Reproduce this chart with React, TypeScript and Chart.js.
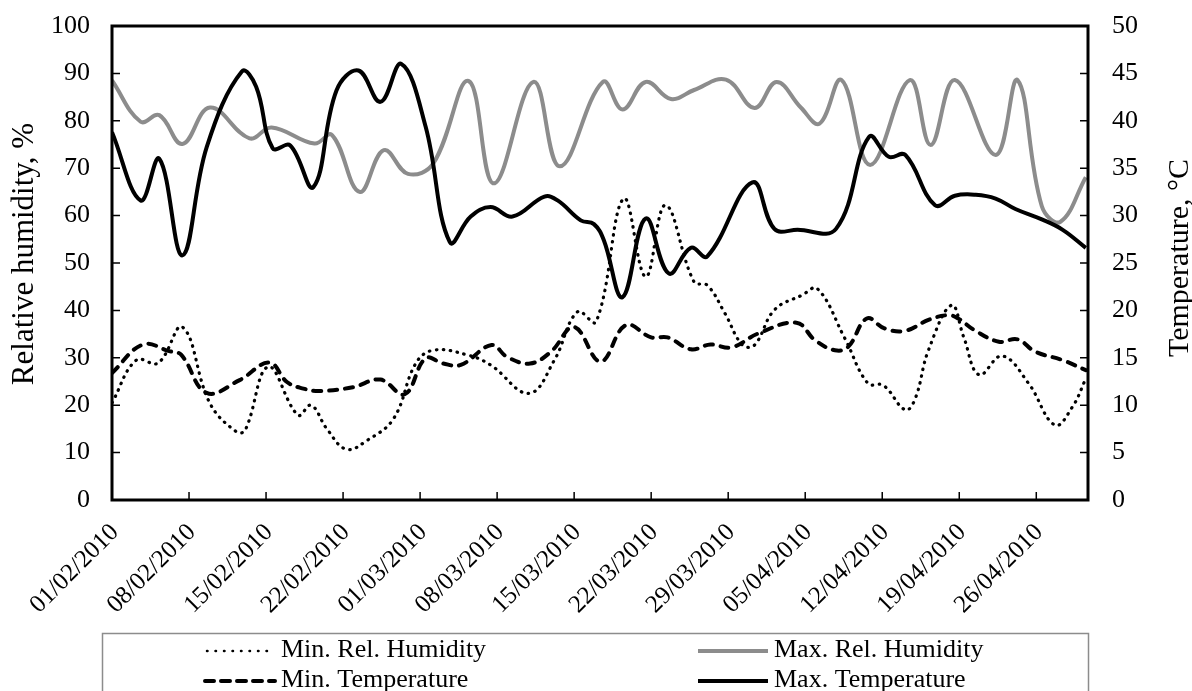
import React, { useEffect, useRef } from 'react';
import { Chart, registerables } from 'chart.js';

Chart.register(...registerables);

const FONT = "'Liberation Serif', 'Times New Roman', serif";

// x axis: days since 01/02/2010
const tickDays = [0, 7, 14, 21, 28, 35, 42, 49, 56, 63, 70, 77, 84];
const tickLabels = [
  '01/02/2010', '08/02/2010', '15/02/2010', '22/02/2010', '01/03/2010', '08/03/2010',
  '15/03/2010', '22/03/2010', '29/03/2010', '05/04/2010', '12/04/2010', '19/04/2010', '26/04/2010',
];
const rhTicks = [0, 10, 20, 30, 40, 50, 60, 70, 80, 90, 100];
const tempTicks = [0, 5, 10, 15, 20, 25, 30, 35, 40, 45, 50];

// Min. Rel. Humidity (%)
const minRhDays = [0, 2.2, 4.2, 6.4, 8.9, 11.3, 12.1, 14.2, 16.9, 18.1, 19.5, 21.3, 23.2, 25.6, 27.6, 29.2, 32.3, 34.4, 37.9, 40.2, 42.3, 44.0, 46.5, 48.5, 50.3, 52.9, 54.1, 55.7, 57.3, 58.4, 60.2, 62.7, 64.1, 66.6, 68.7, 70.1, 72.1, 73.0, 74.2, 76.3, 77.4, 78.8, 80.9, 83.3, 85.7, 87.3, 88.5];
const minRhValues = [20.5, 29.5, 28.9, 36.5, 20.4, 14.4, 14.7, 28.1, 17.9, 20.0, 15.1, 10.7, 12.6, 17.2, 28.8, 31.6, 30.6, 28.5, 22.5, 29.5, 39.7, 37.6, 63.6, 47.1, 62.2, 46.0, 45.3, 39.4, 32.7, 32.7, 40.1, 43.2, 44.6, 34.1, 24.6, 24.2, 19.0, 21.4, 31.6, 41.1, 34.4, 26.4, 30.4, 24.6, 15.8, 19.7, 25.6];

// Max. Rel. Humidity (%)
const maxRhDays = [0, 2.6, 4.3, 6.4, 8.9, 12.5, 14.5, 18.4, 20.0, 22.5, 24.7, 26.9, 29.2, 32.4, 34.7, 38.3, 40.7, 44.6, 46.4, 48.5, 50.8, 52.9, 55.8, 58.4, 60.4, 62.6, 64.3, 66.3, 68.9, 72.5, 74.4, 76.6, 80.3, 82.3, 84.5, 86.2, 88.5];
const maxRhValues = [88.5, 79.8, 81.2, 75.1, 82.8, 76.3, 78.6, 75.2, 77.0, 65.0, 73.8, 68.8, 71.0, 88.4, 66.8, 88.2, 70.4, 88.2, 82.4, 88.2, 84.6, 86.5, 88.7, 82.7, 88.2, 82.8, 79.4, 88.6, 70.7, 88.6, 74.9, 88.6, 72.8, 88.6, 62.0, 58.7, 68.1];

// Min. Temperature (°C)
const minTDays = [0, 2.8, 5.2, 6.3, 8.6, 11.6, 14.3, 15.9, 17.4, 18.9, 21.9, 24.4, 26.6, 28.5, 30.1, 31.7, 34.5, 35.9, 38.0, 39.9, 42.0, 44.4, 46.7, 49.0, 50.5, 52.6, 54.4, 56.3, 58.7, 62.2, 63.9, 65.7, 66.9, 68.6, 70.2, 72.1, 74.2, 76.0, 76.9, 78.4, 80.6, 82.3, 83.9, 86.4, 88.5];
const minTValues = [13.4, 16.4, 15.7, 15.3, 11.3, 12.65, 14.5, 12.45, 11.75, 11.5, 11.9, 12.7, 11.15, 14.95, 14.4, 14.25, 16.35, 15.1, 14.4, 15.65, 18.25, 14.6, 18.45, 17.15, 17.15, 15.9, 16.4, 16.1, 17.55, 18.7, 16.85, 15.8, 16.15, 19.15, 18.1, 17.85, 19.0, 19.5, 19.15, 17.9, 16.7, 16.95, 15.65, 14.75, 13.7];

// Max. Temperature (°C)
const maxTDays = [0, 2.6, 4.3, 6.4, 8.6, 11.8, 13.1, 14.6, 16.2, 18.3, 20.4, 22.4, 24.4, 26.3, 28.5, 30.7, 32.6, 34.4, 36.4, 39.3, 40.5, 42.6, 43.8, 44.7, 46.4, 48.5, 50.6, 52.6, 54.1, 58.2, 60.2, 62.3, 65.8, 68.8, 70.6, 72.1, 74.8, 76.6, 78.5, 80.3, 82.1, 84.5, 86.4, 88.5];
const maxTValues = [38.8, 31.6, 36.0, 25.8, 37.2, 45.2, 43.6, 37.1, 37.4, 33.0, 43.2, 45.3, 42.0, 46.0, 39.4, 27.2, 29.9, 30.9, 29.9, 32.0, 31.6, 29.5, 29.1, 27.4, 21.4, 29.7, 23.9, 26.6, 25.7, 33.5, 28.6, 28.5, 28.6, 38.3, 36.2, 36.4, 31.1, 32.1, 32.2, 31.8, 30.7, 29.6, 28.5, 26.6];

const seriesNames = ['Min. Rel. Humidity', 'Max. Rel. Humidity', 'Min. Temperature', 'Max. Temperature'];
const GREY = '#8c8c8c';

const pts = (d: number[], v: number[]) => d.map((x, i) => ({ x, y: v[i] }));

const noPad = (s: any, w: number) => {
  s.width = w;
  s.paddingTop = 0;
  s.paddingBottom = 0;
};

export default function App() {
  const ref = useRef<HTMLCanvasElement>(null);

  useEffect(() => {
    const canvas = ref.current;
    if (!canvas) return;

    const decor = {
      id: 'decor',
      afterDraw(chart: any) {
        const ctx = chart.ctx as CanvasRenderingContext2D;
        const { left, right, top, bottom } = chart.chartArea;
        const sx = chart.scales.x;
        const sy = chart.scales.y;
        const sy1 = chart.scales.y1;
        ctx.save();
        // inward tick marks
        ctx.strokeStyle = '#000';
        ctx.lineWidth = 1.5;
        ctx.beginPath();
        rhTicks.forEach((v) => {
          const p = sy.getPixelForValue(v);
          ctx.moveTo(left, p);
          ctx.lineTo(left + 8, p);
        });
        tempTicks.forEach((v) => {
          const p = sy1.getPixelForValue(v);
          ctx.moveTo(right - 8, p);
          ctx.lineTo(right, p);
        });
        tickDays.forEach((v) => {
          const p = sx.getPixelForValue(v);
          ctx.moveTo(p, bottom);
          ctx.lineTo(p, bottom - 8);
        });
        ctx.stroke();
        // frame
        ctx.lineWidth = 3;
        ctx.strokeRect(left, top, right - left, bottom - top);

        // axis titles
        ctx.fillStyle = '#000';
        ctx.textAlign = 'center';
        ctx.textBaseline = 'middle';
        ctx.font = `31px ${FONT}`;
        ctx.save();
        ctx.translate(25, 254);
        ctx.rotate(-Math.PI / 2);
        ctx.fillText('Relative humidity, %', 0, 0);
        ctx.restore();
        ctx.font = `30px ${FONT}`;
        ctx.save();
        ctx.translate(1180, 258);
        ctx.rotate(-Math.PI / 2);
        ctx.fillText('Temperature, \u00B0C', 0, 0);
        ctx.restore();

        // legend
        ctx.strokeStyle = GREY;
        ctx.lineWidth = 1.5;
        ctx.strokeRect(102.5, 633.5, 986, 80);
        const rows = [650, 680];
        const cols = [205, 698];
        ctx.font = `26px ${FONT}`;
        ctx.textAlign = 'left';
        ctx.textBaseline = 'middle';
        [0, 1, 2, 3].forEach((k, i) => {
          const ds = chart.data.datasets.find((d: any) => d.label === seriesNames[k]);
          const x0 = cols[i % 2];
          const y0 = rows[Math.floor(i / 2)];
          ctx.save();
          ctx.strokeStyle = ds.borderColor;
          ctx.lineWidth = k === 0 ? 2.5 : 4;
          ctx.lineCap = k === 0 || k === 2 ? 'round' : 'butt';
          ctx.setLineDash(k === 0 ? [0.5, 8] : k === 2 ? [9, 7] : []);
          ctx.beginPath();
          ctx.moveTo(x0 + (k === 0 ? 2 : 0), y0 + 1);
          ctx.lineTo(x0 + 70, y0 + 1);
          ctx.stroke();
          ctx.restore();
          ctx.fillStyle = '#000';
          ctx.fillText(seriesNames[k], x0 + 76, y0);
        });
        ctx.restore();
      },
    };

    const xFont = { family: FONT, size: 25 };
    const yFont = { family: FONT, size: 26 };

    const chart = new Chart(canvas, {
      type: 'line',
      data: {
        datasets: [
          {
            label: seriesNames[3],
            data: pts(maxTDays, maxTValues),
            yAxisID: 'y1',
            borderColor: '#000',
            borderWidth: 4,
          },
          {
            label: seriesNames[2],
            data: pts(minTDays, minTValues),
            yAxisID: 'y1',
            borderColor: '#000',
            borderWidth: 4,
            borderDash: [8, 8],
            borderCapStyle: 'round',
          },
          {
            label: seriesNames[0],
            data: pts(minRhDays, minRhValues),
            yAxisID: 'y',
            borderColor: '#000',
            borderWidth: 3.2,
            borderDash: [0.5, 6.5],
            borderCapStyle: 'round',
          },
          {
            label: seriesNames[1],
            data: pts(maxRhDays, maxRhValues),
            yAxisID: 'y',
            borderColor: GREY,
            borderWidth: 4,
          },
        ] as any,
      },
      options: {
        responsive: false,
        animation: false,
        layout: { padding: { top: 26, left: 0, right: 0, bottom: 0 } },
        elements: { point: { radius: 0 }, line: { tension: 0.4, fill: false } },
        plugins: { legend: { display: false }, tooltip: { enabled: false } },
        scales: {
          x: {
            type: 'linear',
            min: 0,
            max: 88.7,
            grid: { display: false, drawTicks: false },
            border: { display: false },
            afterBuildTicks: (s: any) => {
              s.ticks = tickDays.map((v) => ({ value: v }));
            },
            afterFit: (s: any) => {
              s.height = 191;
            },
            ticks: {
              autoSkip: false,
              minRotation: 45,
              maxRotation: 45,
              padding: 18,
              labelOffset: 3,
              color: '#000',
              font: xFont,
              callback: (v: any) => tickLabels[tickDays.indexOf(Number(v))] ?? '',
            },
          },
          y: {
            position: 'left',
            min: 0,
            max: 100,
            grid: { display: false, drawTicks: false },
            border: { display: false },
            afterBuildTicks: (s: any) => {
              s.ticks = rhTicks.map((v) => ({ value: v }));
            },
            afterFit: (s: any) => noPad(s, 112),
            ticks: { padding: 22, color: '#000', font: yFont },
          },
          y1: {
            position: 'right',
            min: 0,
            max: 50,
            grid: { display: false, drawTicks: false },
            border: { display: false },
            afterBuildTicks: (s: any) => {
              s.ticks = tempTicks.map((v) => ({ value: v }));
            },
            afterFit: (s: any) => noPad(s, 104),
            ticks: { padding: 24, color: '#000', font: yFont },
          },
        },
      } as any,
      plugins: [decor],
    });

    return () => chart.destroy();
  }, []);

  return (
    <div style={{ position: 'fixed', left: 0, top: 0, width: 1192, height: 691, background: '#fff' }}>
      <canvas ref={ref} width={1192} height={691} style={{ display: 'block' }} />
    </div>
  );
}
